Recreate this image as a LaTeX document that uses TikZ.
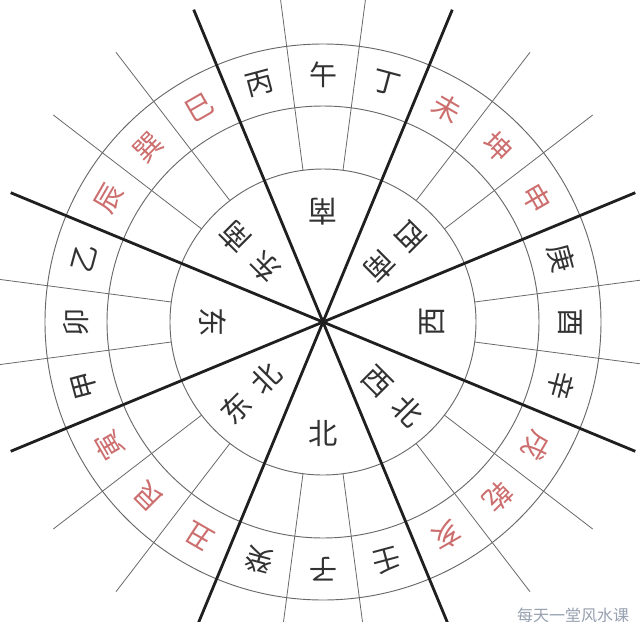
\documentclass[tikz,border=0pt]{standalone}
\usepackage{fontspec}
\newfontfamily\cjk{Noto Sans CJK SC}
\definecolor{linegray}{RGB}{105,105,105}
\definecolor{inkgray}{RGB}{50,50,50}
\definecolor{inkred}{RGB}{205,110,110}
\definecolor{markgray}{RGB}{150,160,175}

\begin{document}
\begin{tikzpicture}[x=0.75pt,y=0.75pt,yscale=-1,xscale=1,
  ring/.style={draw=linegray,line width=0.7pt},
  spoke/.style={draw=linegray,line width=0.6pt},
  axisline/.style={draw=black!88,line width=2.1pt},
  mtn/.style={font=\cjk\fontsize{21}{21}\selectfont,text=inkgray,inner sep=0pt},
  redmtn/.style={mtn,text=inkred},
  dir/.style={font=\cjk\fontsize{22}{22}\selectfont,text=inkgray,inner sep=0pt}]
\useasboundingbox (0,0) rectangle (640,622);
\clip (0,0) rectangle (640,622);
\fill [white] (0,0) rectangle (640,622);

\coordinate (O) at (323,322);

%Shape: Circle
\draw [ring] (O) circle [radius=153];
%Shape: Circle
\draw [ring] (O) circle [radius=216];
%Shape: Circle
\draw [ring] (O) circle [radius=278];

%Straight Lines
\draw [spoke] (474.7,302.0) -- (660.1,277.6);
%Straight Lines
\draw [spoke] (444.4,228.9) -- (592.7,115.0);
%Straight Lines
\draw [spoke] (416.1,200.6) -- (530.0,52.3);
%Straight Lines
\draw [spoke] (343.0,170.3) -- (367.4,-15.1);
%Straight Lines
\draw [spoke] (303.0,170.3) -- (278.6,-15.1);
%Straight Lines
\draw [spoke] (229.9,200.6) -- (116.0,52.3);
%Straight Lines
\draw [spoke] (201.6,228.9) -- (53.3,115.0);
%Straight Lines
\draw [spoke] (171.3,302.0) -- (-14.1,277.6);
%Straight Lines
\draw [spoke] (171.3,342.0) -- (-14.1,366.4);
%Straight Lines
\draw [spoke] (201.6,415.1) -- (53.3,529.0);
%Straight Lines
\draw [spoke] (229.9,443.4) -- (116.0,591.7);
%Straight Lines
\draw [spoke] (303.0,473.7) -- (278.6,659.1);
%Straight Lines
\draw [spoke] (343.0,473.7) -- (367.4,659.1);
%Straight Lines
\draw [spoke] (416.1,443.4) -- (530.0,591.7);
%Straight Lines
\draw [spoke] (444.4,415.1) -- (592.7,529.0);
%Straight Lines
\draw [spoke] (474.7,342.0) -- (660.1,366.4);

%Straight Lines
\draw [axisline] (10.7,451.3) -- (O) -- (635.3,192.7);
%Straight Lines
\draw [axisline] (193.7,634.3) -- (O) -- (452.3,9.7);
%Straight Lines
\draw [axisline] (452.3,634.3) -- (O) -- (193.7,9.7);
%Straight Lines
\draw [axisline] (635.3,451.3) -- (O) -- (10.7,192.7);

% Text Node
\draw (570.0,322.0) node (you) [mtn,rotate=-90] {酉};
% Text Node
\draw (561.6,258.1) node (geng) [mtn,rotate=-75] {庚};
% Text Node
\draw (536.9,198.5) node (shen) [redmtn,rotate=-60] {申};
% Text Node
\draw (497.7,147.3) node (kun) [redmtn,rotate=-45] {坤};
% Text Node
\draw (446.5,108.1) node (wei) [redmtn,rotate=-30] {未};
% Text Node
\draw (386.9,83.4) node (ding) [mtn,rotate=-15] {丁};
% Text Node
\draw (323.0,75.0) node (wu) [mtn] {午};
% Text Node
\draw (259.1,83.4) node (bing) [mtn,rotate=15] {丙};
% Text Node
\draw (199.5,108.1) node (si) [redmtn,rotate=30] {巳};
% Text Node
\draw (148.3,147.3) node (xun) [redmtn,rotate=45] {巽};
% Text Node
\draw (109.1,198.5) node (chen) [redmtn,rotate=60] {辰};
% Text Node
\draw (84.4,258.1) node (yi) [mtn,rotate=75] {乙};
% Text Node
\draw (76.0,322.0) node (mao) [mtn,rotate=90] {卯};
% Text Node
\draw (84.4,385.9) node (jia) [mtn,rotate=105] {甲};
% Text Node
\draw (109.1,445.5) node (yin) [redmtn,rotate=120] {寅};
% Text Node
\draw (148.3,496.7) node (gen) [redmtn,rotate=135] {艮};
% Text Node
\draw (199.5,535.9) node (chou) [redmtn,rotate=150] {丑};
% Text Node
\draw (259.1,560.6) node (gui) [mtn,rotate=165] {癸};
% Text Node
\draw (323.0,569.0) node (zi) [mtn,rotate=180] {子};
% Text Node
\draw (386.9,560.6) node (ren) [mtn,rotate=-165] {壬};
% Text Node
\draw (446.5,535.9) node (hai) [redmtn,rotate=-150] {亥};
% Text Node
\draw (497.7,496.7) node (qian) [redmtn,rotate=-135] {乾};
% Text Node
\draw (536.9,445.5) node (xu) [redmtn,rotate=-120] {戌};
% Text Node
\draw (561.6,385.9) node (xin) [mtn,rotate=-105] {辛};

% Text Node
\draw (323.0,212.0) node (nan) [dir,rotate=180] {南};
% Text Node
\draw (432.0,322.0) node (xi) [dir,rotate=90] {西};
% Text Node
\draw (323.0,433.0) node (bei) [dir] {北};
% Text Node
\draw (213.0,322.0) node (dong) [dir,rotate=-90] {东};
% Text Node
\draw (250.5,252.0) node (dongnan) [dir,rotate=135] {东\hspace{0.45em}南};
% Text Node
\draw (395.5,252.0) node (xinan) [dir,rotate=-135] {西\hspace{0.45em}南};
% Text Node
\draw (393.0,396.0) node (xibei) [dir,rotate=-45] {西\hspace{0.45em}北};
% Text Node
\draw (251.0,393.5) node (dongbei) [dir,rotate=45] {东\hspace{0.45em}北};

% Text Node
\draw (573,615) node (mark) [font=\cjk\fontsize{12}{12}\selectfont,text=markgray,inner sep=0pt] {每天一堂风水课};

\end{tikzpicture}
\end{document}
